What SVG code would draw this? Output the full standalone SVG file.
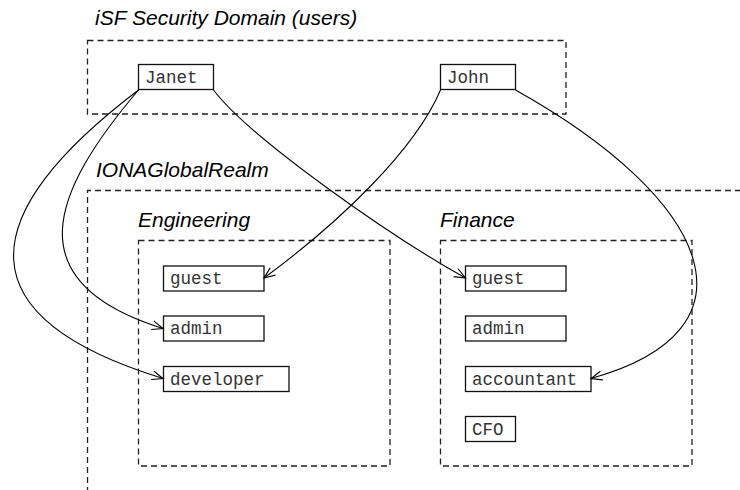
<svg xmlns="http://www.w3.org/2000/svg" width="740" height="490" viewBox="0 0 740 490">
<defs>
<style>
.title{font-family:"Liberation Sans",Arial,sans-serif;font-style:italic;font-size:21px;fill:#000}
.lbl{font-family:"Liberation Mono","Courier New",monospace;font-size:17.5px;fill:#333}
.box{fill:#fff;stroke:#111;stroke-width:1.3}
.dash{fill:none;stroke:#222;stroke-width:1.3;stroke-dasharray:6,4}
.conn{fill:none;stroke:#000;stroke-width:1.1;marker-end:url(#arr)}
</style>
<marker id="arr" markerWidth="14" markerHeight="12" refX="12" refY="6" orient="auto" markerUnits="userSpaceOnUse">
<path d="M1,1.5 L12,6 L1,10.5" fill="none" stroke="#000" stroke-width="1.1"/>
</marker>
</defs>
<rect width="740" height="490" fill="#fff"/>

<g id="domain-users">
<text class="title" x="95" y="25">iSF Security Domain (users)</text>
<rect class="dash" x="87.5" y="40.5" width="478.5" height="73.5"/>
</g>
<g id="realm">
<text class="title" x="96" y="177">IONAGlobalRealm</text>
<path class="dash" d="M741,190.5 H87.5 V492"/>
</g>
<g id="engineering">
<text class="title" x="138" y="227">Engineering</text>
<rect class="dash" x="138.5" y="240.5" width="251.5" height="225.5"/>
</g>
<g id="finance">
<text class="title" x="440" y="227">Finance</text>
<rect class="dash" x="440.5" y="240.5" width="251.5" height="225.5"/>
</g>

<g id="janet"><rect class="box" x="138.5" y="64.5" width="75" height="25"/><text class="lbl" x="145" y="83">Janet</text></g>
<g id="john"><rect class="box" x="440.5" y="64.5" width="75" height="25"/><text class="lbl" x="447" y="83">John</text></g>

<g id="eng-guest"><rect class="box" x="163.5" y="266" width="100.5" height="25"/><text class="lbl" x="170" y="284">guest</text></g>
<g id="eng-admin"><rect class="box" x="163.5" y="316" width="100.5" height="25"/><text class="lbl" x="170" y="334">admin</text></g>
<g id="eng-developer"><rect class="box" x="163.5" y="366.5" width="125.5" height="25"/><text class="lbl" x="170" y="384.5">developer</text></g>

<g id="fin-guest"><rect class="box" x="465.5" y="266" width="100.5" height="25"/><text class="lbl" x="472" y="284">guest</text></g>
<g id="fin-admin"><rect class="box" x="465.5" y="316" width="100.5" height="25"/><text class="lbl" x="472" y="334">admin</text></g>
<g id="fin-accountant"><rect class="box" x="465.5" y="366.5" width="125.5" height="25"/><text class="lbl" x="472" y="384.5">accountant</text></g>
<g id="fin-cfo"><rect class="box" x="465.5" y="416.5" width="50" height="25"/><text class="lbl" x="472" y="434.5">CFO</text></g>

<g id="connectors">
<path class="conn" d="M138.5,90 C-30,218 -34,318 163,378.5"/>
<path class="conn" d="M138.5,90 C52,192 14,282 163,328.5"/>
<path class="conn" d="M213.5,90 C250,138 390,236 465.5,278"/>
<path class="conn" d="M440.5,90 C415,150 340,222 264,278"/>
<path class="conn" d="M515.5,90 C712,200 766,330 591,378.5"/>
</g>
</svg>
